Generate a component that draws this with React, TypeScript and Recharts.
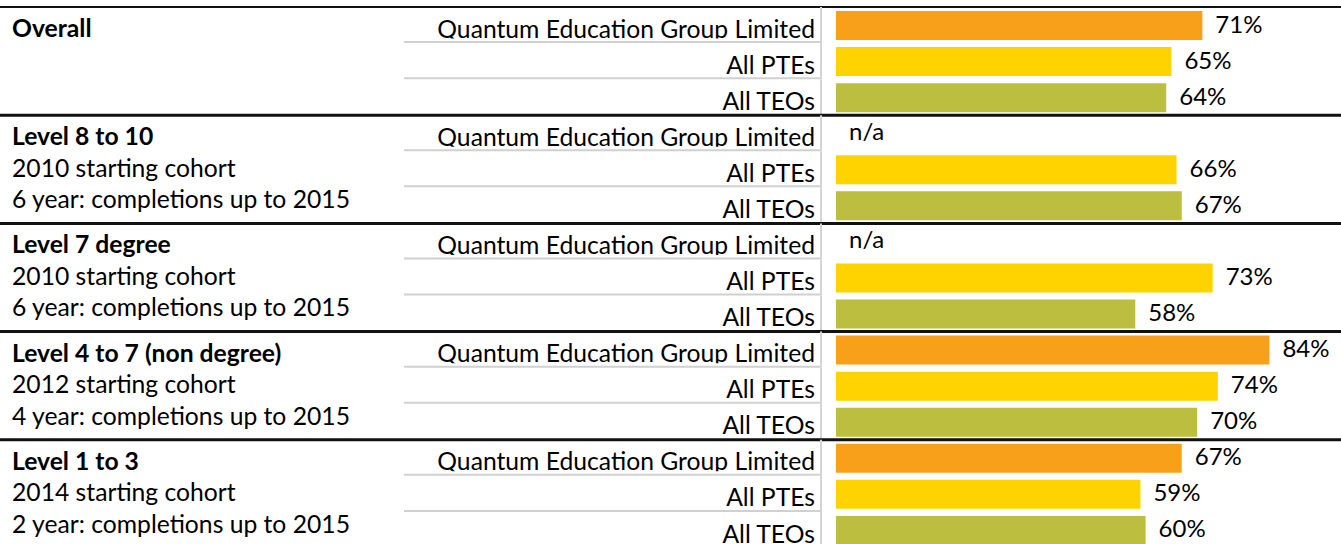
import { BarChart, Bar, XAxis, YAxis, Cell, LabelList } from "recharts";

const groupTitles = ["Overall", "Level 8 to 10", "Level 7 degree", "Level 4 to 7 (non degree)", "Level 1 to 3"];
const groupCohorts = ["", "2010 starting cohort", "2010 starting cohort", "2012 starting cohort", "2014 starting cohort"];
const groupPeriods = [
  "",
  "6 year: completions up to 2015",
  "6 year: completions up to 2015",
  "4 year: completions up to 2015",
  "2 year: completions up to 2015",
];
const seriesNames = ["Quantum Education Group Limited", "All PTEs", "All TEOs"];
const quantumValues: (number | null)[] = [71, null, null, 84, 67];
const ptesValues = [65, 66, 73, 74, 59];
const teosValues = [64, 67, 58, 70, 60];
const seriesColors = ["#F9A01B", "#FFD300", "#BBBE3E"];

const seriesValues = [quantumValues, ptesValues, teosValues];

const rows = groupTitles.flatMap((_, gi) =>
  seriesNames.map((_, si) => {
    const v = seriesValues[si][gi];
    return {
      key: `${gi}-${si}`,
      group: gi,
      series: si,
      value: v ?? 0,
      label: v == null ? "n/a" : `${v}%`,
    };
  })
);

const VIEW_W = 1341;
const WIDTH = 1352; // plot runs a little past the visible edge, like the cropped original
const HEIGHT = 548;
const TOP = 7;
const AXIS_W = 836;
const ROW_H = (HEIGHT - TOP) / rows.length;
const FONT = "Lato, Carlito, Calibri, sans-serif";
const FS = 24.7;
const VALUE_FS = 24;

function RowTick(props: any) {
  const { y, payload } = props;
  const row = rows.find((r) => r.key === payload.value);
  if (!row) return null;
  const top = y - ROW_H / 2;
  const bottom = y + ROW_H / 2;
  const clipId = `clip-${row.key}`;

  return (
    <g>
      <defs>
        <clipPath id={clipId}>
          <rect x={400} y={top} width={425} height={bottom - top - 4.5} />
        </clipPath>
      </defs>
      {row.key === "0-0" && <line x1={0} x2={WIDTH} y1={top} y2={top} stroke="#111" strokeWidth={2} />}
      <line x1={821} x2={821} y1={top} y2={bottom} stroke="#d4d4d4" strokeWidth={2} />
      <text
        x={815}
        y={bottom - 5.5}
        textAnchor="end"
        fontFamily={FONT}
        fontSize={FS}
        fill="#000"
        clipPath={`url(#${clipId})`}
      >
        {seriesNames[row.series]}
      </text>
      {row.label === "n/a" && (
        <text x={AXIS_W + 13} y={y + 7} fontFamily={FONT} fontSize={VALUE_FS} fill="#000">
          {row.label}
        </text>
      )}
      {row.series < 2 ? (
        <line x1={404} x2={820} y1={bottom - 1} y2={bottom - 1} stroke="#d0d0d0" strokeWidth={2} />
      ) : (
        <line x1={0} x2={WIDTH} y1={bottom} y2={bottom} stroke="#111" strokeWidth={3} />
      )}
      {row.series === 0 && (
        <g fontFamily={FONT} fontSize={FS} fill="#000">
          <text x={12} y={top + 30} fontWeight="bold">
            {groupTitles[row.group]}
          </text>
          <text x={12} y={top + 61.5}>
            {groupCohorts[row.group]}
          </text>
          <text x={12} y={top + 93}>
            {groupPeriods[row.group]}
          </text>
        </g>
      )}
    </g>
  );
}

function ValueLabel(props: any) {
  const { x, y, width, height, value } = props;
  if (value === "n/a") return null;
  return (
    <text x={x + width + 13} y={y + height / 2 + 7} fontFamily={FONT} fontSize={VALUE_FS} fill="#000">
      {value}
    </text>
  );
}

export default function App() {
  return (
    <div style={{ width: VIEW_W, height: 544, overflow: "hidden", background: "#fff" }}>
      <style>{"body{margin:0;overflow:hidden}"}</style>
      <BarChart
        width={WIDTH}
        height={HEIGHT}
        data={rows}
        layout="vertical"
        margin={{ top: TOP, right: 0, bottom: 0, left: 0 }}
      >
        <XAxis type="number" domain={[0, 100]} hide />
        <YAxis
          type="category"
          dataKey="key"
          width={AXIS_W}
          axisLine={false}
          tickLine={false}
          interval={0}
          tick={(p: any) => <RowTick {...p} />}
        />
        <Bar dataKey="value" barSize={29} isAnimationActive={false}>
          {rows.map((r) => (
            <Cell key={r.key} fill={seriesColors[r.series]} />
          ))}
          <LabelList dataKey="label" content={(p: any) => <ValueLabel {...p} />} />
        </Bar>
      </BarChart>
    </div>
  );
}
